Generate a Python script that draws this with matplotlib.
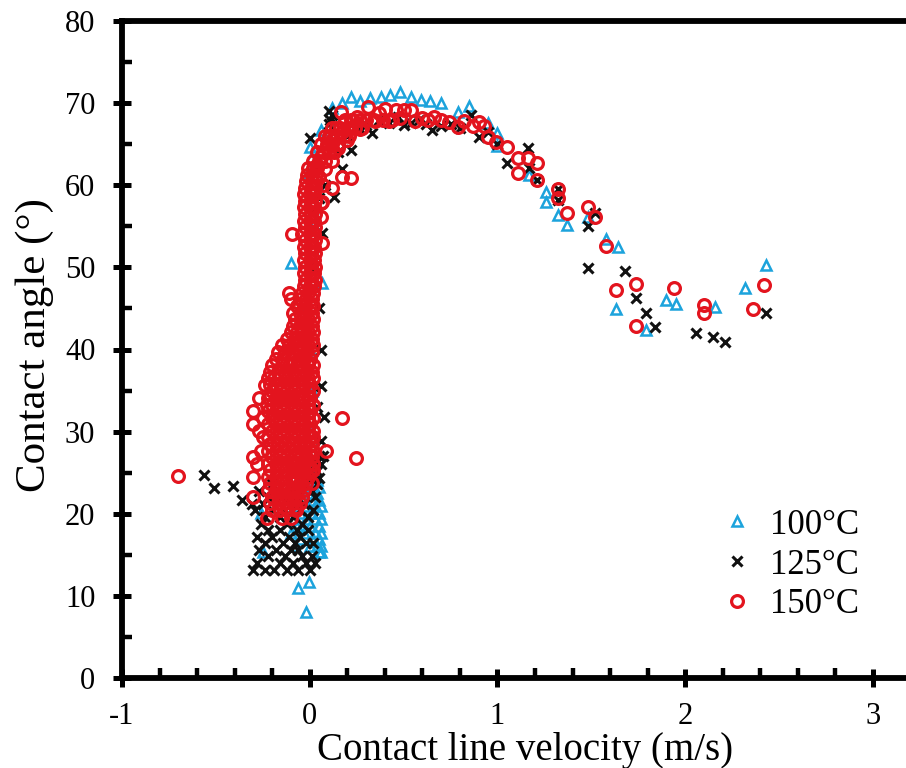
import matplotlib
matplotlib.use("Agg")
import matplotlib.pyplot as plt
import numpy as np
from matplotlib.ticker import MultipleLocator

plt.rcParams["font.family"] = ["Liberation Serif", "DejaVu Serif"]
plt.rcParams["axes.unicode_minus"] = False

# ---- 100 C (triangles) ----
# dense low cluster near zero: (angle, [velocities])
c100_rows = [
    (15.3, [0.05, 0.06]),
    (16.1, [-0.08, 0.00, 0.04, 0.06]),
    (16.9, [-0.05, 0.02, 0.05]),
    (17.7, [-0.10, -0.03, 0.03, 0.06]),
    (18.5, [-0.07, 0.00, 0.05]),
    (19.3, [-0.09, -0.02, 0.03, 0.06]),
    (20.1, [-0.26, -0.05, 0.01, 0.05]),
    (20.9, [-0.08, -0.02, 0.03, 0.06]),
    (21.7, [-0.04, 0.02, 0.05]),
    (22.5, [-0.01, 0.04]),
    (23.3, [0.02, 0.05]),
    (24.1, [0.00, 0.04]),
    (25.0, [0.03]),
]
c100_v = [-0.25, -0.02, -0.06, -0.005, 0.00, 0.01, 0.00, -0.02, 0.02, 0.00, 0.02,
          -0.01, -0.10, 0.065, 0.005, 0.00, 0.06, 0.12, 0.17, 0.22, 0.27, 0.32,
          0.38, 0.43, 0.48, 0.54, 0.59, 0.64, 0.70, 0.79, 0.85, 0.95, 1.00, 1.00,
          1.17, 1.26, 1.26, 1.32, 1.37, 1.48, 1.58, 1.64, 1.63, 1.79, 1.90, 1.95,
          2.16, 2.32, 2.43]
c100_a = [15.3, 8.0, 11.0, 11.7, 30.0, 35.0, 40.0, 45.0, 50.0, 55.0, 58.0,
          61.5, 50.5, 48.1, 63.3, 64.7, 66.7, 69.4, 70.0, 70.8, 70.2, 70.6,
          70.8, 71.0, 71.4, 70.8, 70.4, 70.2, 70.0, 68.9, 69.7, 67.6, 66.4, 64.8,
          61.3, 59.2, 58.0, 56.4, 55.2, 56.1, 53.5, 52.5, 44.9, 42.4, 46.0, 45.6,
          45.2, 47.5, 50.3]

# ---- 125 C (crosses) ----
c125_rows = [
    (13.2, [-0.30, -0.24, -0.19, -0.12, -0.06, 0.00]),
    (14.0, [-0.28, -0.16, -0.09, -0.02, 0.03]),
    (14.8, [-0.22, -0.13, -0.04, 0.01]),
    (15.6, [-0.27, -0.18, -0.10, -0.06]),
    (16.4, [-0.24, -0.14, -0.08, -0.02, 0.02]),
    (17.2, [-0.28, -0.20, -0.11, -0.05]),
    (18.0, [-0.22, -0.16, -0.07, -0.01]),
    (18.8, [-0.26, -0.12, -0.04]),
    (19.6, [-0.24, -0.16, -0.09, -0.01]),
    (20.4, [-0.29, -0.20, -0.13, -0.05, 0.02]),
    (21.2, [-0.31, -0.25, -0.10, -0.03]),
    (22.0, [-0.22, -0.15, -0.07, 0.03]),
    (22.8, [-0.27, -0.09, 0.01]),
    (23.6, [-0.20, -0.04, 0.04]),
    (24.4, [-0.03, 0.02, 0.05]),
    (25.2, [0.00, 0.04]),
    (26.0, [0.03, 0.06]),
    (27.0, [0.05, 0.07]),
]
c125_v = [-0.565, -0.51, -0.41, -0.36, 0.06, 0.075, 0.06, 0.04, 0.06, 0.05, 0.03,
          0.065, 0.02, 0.00, 0.03, 0.05, 0.08, 0.10, 0.10, 0.11, 0.12, 0.13, 0.15,
          0.17, 0.20, 0.22, 0.26, 0.30, 0.33, 0.37, 0.42, 0.47, 0.50, 0.54, 0.58,
          0.62, 0.65, 0.70, 0.75, 0.80, 0.86, 0.90, 0.95, 1.00, 1.05, 1.16, 1.17,
          1.21, 1.32, 1.32, 1.48, 1.52, 1.48, 1.68, 1.74, 1.79, 1.84, 2.06, 2.15,
          2.21, 2.43]
c125_a = [24.7, 23.1, 23.4, 21.7, 28.8, 31.8, 35.5, 33.0, 40.0, 45.0, 50.0,
          54.2, 57.0, 65.8, 62.0, 58.5, 60.0, 67.5, 69.0, 68.0, 68.5, 58.6, 64.0,
          62.0, 66.0, 64.3, 67.0, 67.3, 66.4, 68.0, 67.6, 68.3, 67.3, 67.6, 68.0,
          67.5, 66.7, 67.2, 67.5, 67.0, 68.5, 65.9, 66.5, 65.0, 62.7, 64.5, 62.1,
          60.6, 59.5, 58.2, 55.0, 56.6, 49.9, 49.5, 46.3, 44.5, 42.8, 42.0, 41.5,
          40.9, 44.5]

# ---- 150 C (circles) ----
c150_rows = [
    (19.5, [-0.23, -0.15, -0.10]),
    (20.5, [-0.20, -0.16, -0.12, -0.075]),
    (21.3, [-0.21, -0.17, -0.13, -0.09, -0.05]),
    (22.1, [-0.30, -0.20, -0.16, -0.12, -0.08, -0.04]),
    (22.9, [-0.22, -0.18, -0.14, -0.10, -0.06, -0.03]),
    (23.7, [-0.21, -0.17, -0.13, -0.09, -0.05, -0.02, 0.01]),
    (24.5, [-0.30, -0.22, -0.18, -0.14, -0.10, -0.075, -0.04, -0.01]),
    (25.3, [-0.21, -0.17, -0.13, -0.09, -0.06, -0.03, 0.00, 0.02]),
    (26.1, [-0.28, -0.22, -0.18, -0.14, -0.10, -0.07, -0.04, -0.01, 0.02]),
    (26.9, [-0.30, -0.20, -0.16, -0.12, -0.08, -0.05, -0.02, 0.01]),
    (27.7, [-0.26, -0.22, -0.18, -0.14, -0.10, -0.06, -0.03, 0.00, 0.02, 0.085]),
    (28.5, [-0.21, -0.17, -0.13, -0.09, -0.05, -0.02, 0.01]),
    (29.3, [-0.25, -0.22, -0.18, -0.14, -0.10, -0.06, -0.03, 0.00, 0.02]),
    (30.1, [-0.27, -0.20, -0.16, -0.12, -0.08, -0.04, -0.01, 0.02]),
    (30.9, [-0.30, -0.22, -0.18, -0.14, -0.10, -0.06, -0.03, 0.00]),
    (31.7, [-0.25, -0.20, -0.16, -0.12, -0.08, -0.04, -0.01, 0.02, 0.17]),
    (32.5, [-0.30, -0.22, -0.18, -0.14, -0.10, -0.06, -0.03, 0.00]),
    (33.3, [-0.23, -0.20, -0.16, -0.12, -0.08, -0.04, -0.01, 0.02]),
    (34.1, [-0.27, -0.22, -0.18, -0.14, -0.10, -0.06, -0.03, 0.00]),
    (34.9, [-0.20, -0.16, -0.12, -0.08, -0.04, -0.01, 0.02]),
    (35.7, [-0.24, -0.21, -0.18, -0.14, -0.10, -0.06, -0.03, 0.00]),
    (36.5, [-0.22, -0.19, -0.16, -0.12, -0.08, -0.04, -0.01, 0.02]),
    (37.3, [-0.21, -0.17, -0.13, -0.09, -0.05, -0.02, 0.01]),
    (38.1, [-0.20, -0.15, -0.11, -0.07, -0.04, -0.01, 0.02]),
    (38.9, [-0.18, -0.14, -0.10, -0.06, -0.03, 0.00]),
    (39.7, [-0.17, -0.13, -0.09, -0.05, -0.02, 0.01]),
    (40.5, [-0.15, -0.11, -0.07, -0.04, -0.01, 0.02]),
    (41.3, [-0.12, -0.08, -0.05, -0.02, 0.01]),
    (42.1, [-0.10, -0.07, -0.04, -0.01, 0.02]),
    (42.9, [-0.09, -0.05, -0.02, 0.01]),
    (43.7, [-0.08, -0.04, -0.01, 0.02]),
    (44.5, [-0.09, -0.05, -0.02, 0.01]),
    (45.3, [-0.07, -0.03, 0.00, 0.02]),
    (46.1, [-0.10, -0.05, -0.02, 0.01]),
    (46.9, [-0.11, -0.04, -0.01, 0.02]),
    (47.7, [-0.03, 0.00, 0.025]),
    (48.5, [-0.025, 0.005, 0.03]),
    (49.3, [-0.03, 0.00, 0.025]),
    (50.1, [-0.025, 0.005, 0.03]),
    (50.9, [-0.03, 0.00, 0.025]),
    (51.7, [-0.025, 0.005, 0.03]),
    (52.5, [-0.03, 0.00, 0.025]),
    (53.3, [-0.025, 0.005, 0.03]),
    (54.1, [-0.095, -0.04, 0.00, 0.025]),
    (54.9, [-0.025, 0.005, 0.03]),
    (55.7, [-0.03, 0.00, 0.025]),
    (56.5, [-0.025, 0.005, 0.03]),
    (57.3, [-0.03, 0.00, 0.025]),
    (58.1, [-0.025, 0.005, 0.03]),
    (58.9, [-0.03, 0.00, 0.025]),
    (59.7, [-0.025, 0.005, 0.03]),
    (60.5, [-0.02, 0.01, 0.035]),
    (61.3, [-0.015, 0.01, 0.035]),
    (62.1, [-0.01, 0.015, 0.04]),
    (63.0, [0.02, 0.05, 0.08]),
    (64.0, [0.04, 0.07, 0.10, 0.13]),
    (65.0, [0.06, 0.09, 0.12, 0.15]),
    (66.0, [0.08, 0.11, 0.14, 0.18, 0.21]),
    (67.0, [0.12, 0.16, 0.20, 0.24, 0.28]),
    (68.0, [0.19, 0.23, 0.27, 0.34, 0.39, 0.44]),
]
c150_v = [-0.70, -0.075, -0.075, 0.245, 0.064, 0.06, 0.06, 0.12, 0.17, 0.22,
          0.04, 0.06, 0.05, 0.07, 0.08, 0.065, 0.09, 0.10, 0.11, 0.12, 0.12, 0.14,
          0.15, 0.165, 0.17, 0.19, 0.20, 0.22, 0.22, 0.25, 0.27, 0.30, 0.31, 0.35,
          0.37, 0.40, 0.42, 0.46, 0.48, 0.50, 0.54, 0.56, 0.60, 0.63, 0.66, 0.70,
          0.74, 0.79, 0.82, 0.87, 0.90, 0.93, 0.95, 0.99, 1.05, 1.11, 1.11, 1.16,
          1.21, 1.21, 1.32, 1.32, 1.37, 1.48, 1.52, 1.58, 1.63, 1.74, 1.74, 1.94,
          2.10, 2.10, 2.36, 2.42]
c150_a = [24.6, 24.0, 20.8, 26.8, 53.0, 56.1, 57.8, 59.7, 61.0, 60.9,
          62.5, 63.5, 61.0, 60.0, 62.0, 58.0, 64.5, 66.0, 65.9, 63.0, 65.5, 67.0,
          64.5, 68.9, 66.5, 67.8, 65.5, 67.9, 67.0, 68.3, 66.8, 68.0, 69.5, 67.8,
          68.8, 69.3, 67.8, 69.2, 68.2, 69.2, 69.2, 67.8, 68.2, 67.9, 68.3, 67.9,
          67.7, 67.1, 67.8, 67.2, 67.7, 67.2, 65.9, 65.3, 64.7, 63.3, 61.5, 63.3,
          62.7, 60.6, 59.5, 58.4, 56.6, 57.4, 56.1, 52.6, 47.2, 48.0, 42.9, 47.5,
          45.4, 44.4, 44.9, 47.9]

COL_100 = "#1ca3dc"
COL_125 = "#111111"
COL_150 = "#e3141e"


def expand(rows, xs, ys):
    vx = [v for a, vals in rows for v in vals] + list(xs)
    vy = [a for a, vals in rows for v in vals] + list(ys)
    return np.array(vx), np.array(vy)


x100, y100 = expand(c100_rows, c100_v, c100_a)
x125, y125 = expand(c125_rows, c125_v, c125_a)
x150, y150 = expand(c150_rows, c150_v, c150_a)

fig = plt.figure(figsize=(9.06, 7.68), dpi=100)
ax = fig.add_axes([122 / 906, 1 - 678 / 768, 788.5 / 906, 657 / 768])

ax.plot(x100, y100, ls="none", marker="^", ms=7.5, mfc="none", mec=COL_100, mew=1.8, label="100\u00b0C")
ax.plot(x125, y125, ls="none", marker="x", ms=7.5, mec=COL_125, mew=2.2, label="125\u00b0C")
ax.plot(x150, y150, ls="none", marker="o", ms=8.5, mfc="none", mec=COL_150, mew=2.3, label="150\u00b0C")

ax.set_xlim(-1, 3.2)
ax.set_ylim(0, 80)
ax.xaxis.set_major_locator(MultipleLocator(1))
ax.xaxis.set_minor_locator(MultipleLocator(0.2))
ax.yaxis.set_major_locator(MultipleLocator(10))
ax.yaxis.set_minor_locator(MultipleLocator(5))

for side in ["left", "bottom", "top", "right"]:
    ax.spines[side].set_linewidth(4.2)
ax.tick_params(which="major", direction="inout", length=13.5, width=3.6,
               labelsize=22, pad=12.5, top=False, right=False)
ax.tick_params(axis="x", which="major", pad=10.5)
ax.tick_params(which="minor", direction="in", length=7, width=3.2, top=False, right=False)

fig.text(525 / 906, 8 / 768, "Contact line velocity (m/s)", fontsize=28, ha="center", va="baseline")
fig.text(35 / 906, 1 - 345 / 768, "Contact angle (\u00b0)", fontsize=31, ha="center", va="center", rotation=90)

ax.legend(loc="center left", bbox_to_anchor=(720 / 906, 1 - 565 / 768), bbox_transform=fig.transFigure,
          frameon=False, fontsize=25, handlelength=1.0, handletextpad=0.45, labelspacing=0.2,
          borderpad=0, borderaxespad=0)

fig.savefig("out.png", dpi=100)
